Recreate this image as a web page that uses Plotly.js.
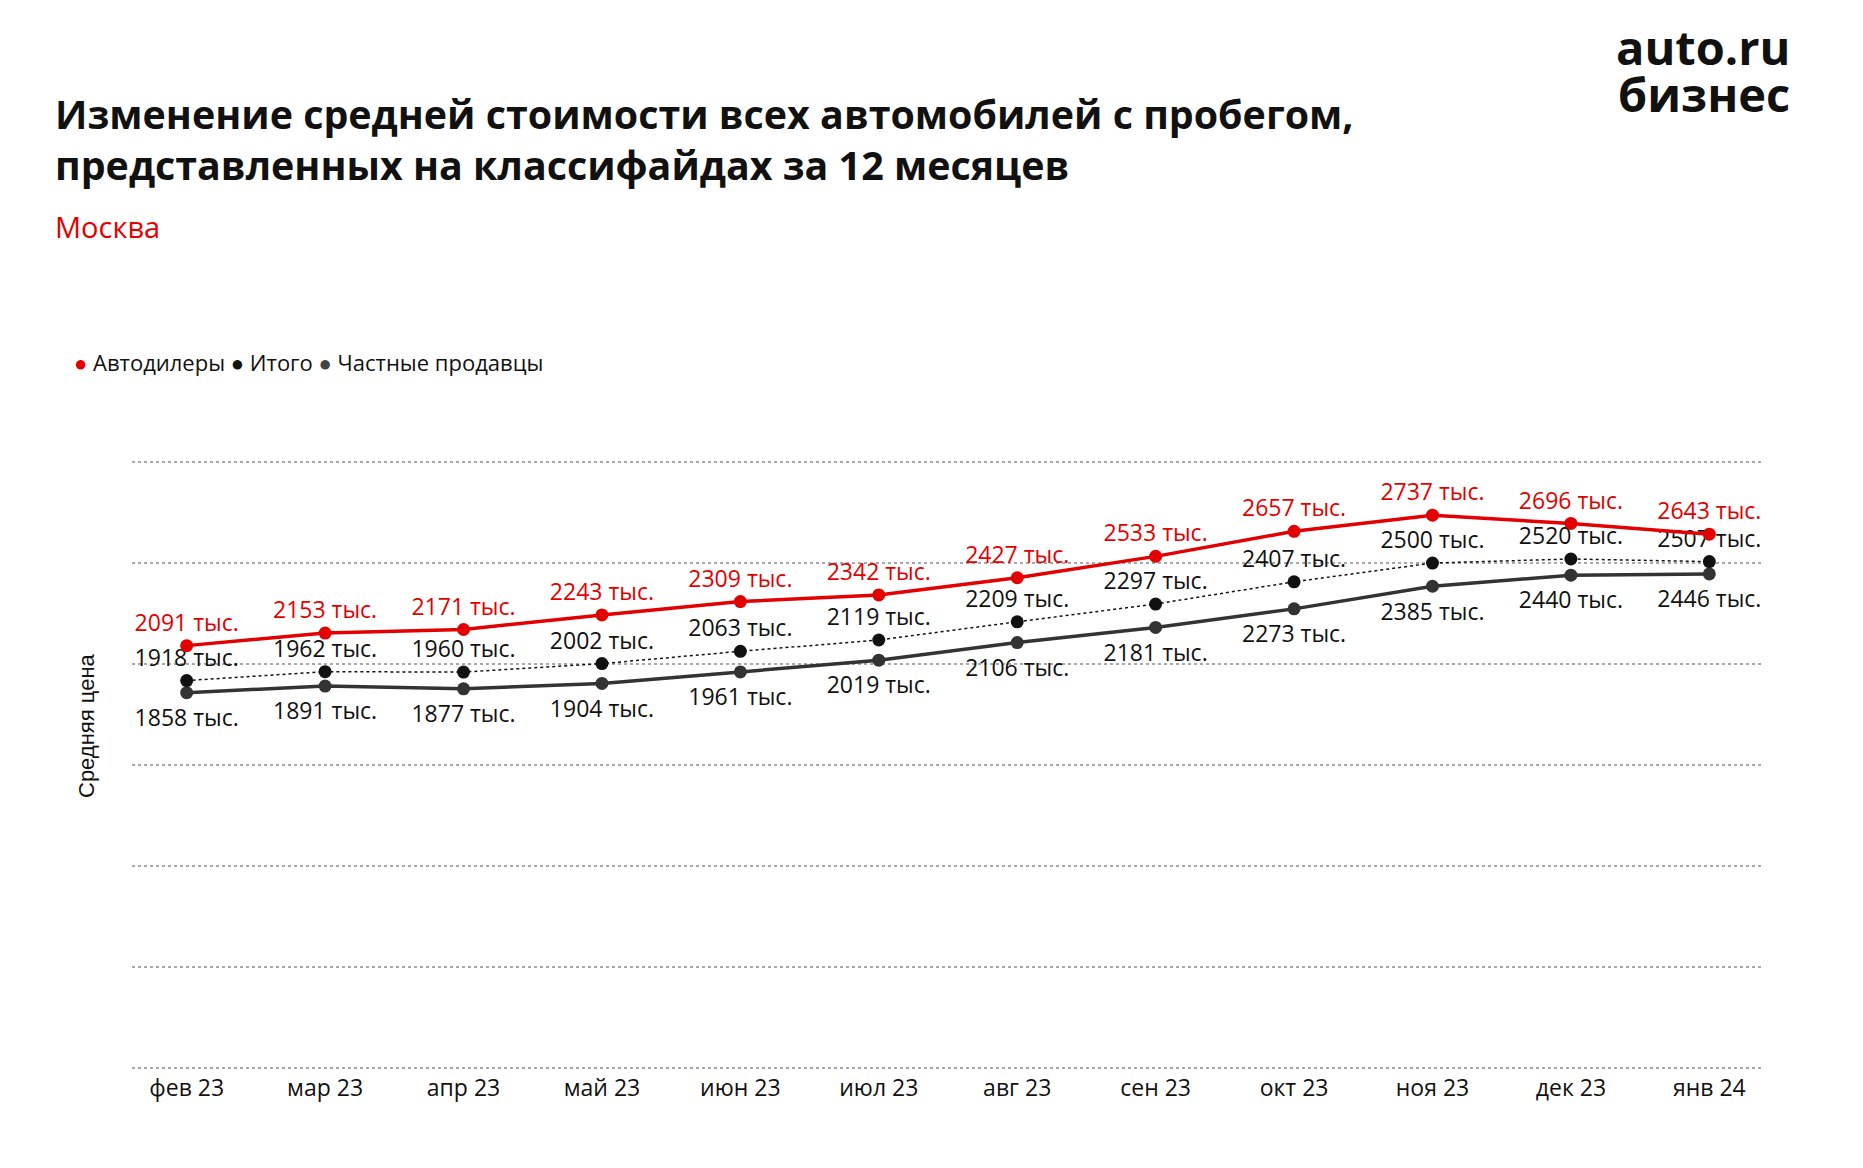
<!DOCTYPE html>
<html>
<head>
<meta charset="utf-8">
<script src="https://cdn.plot.ly/plotly-3.0.1.min.js"></script>
<style>html,body{margin:0;padding:0;background:#fff;}#chart{width:1863px;height:1168px;}</style>
</head>
<body>
<div id="chart"></div>
<script>
const months = ["фев 23","мар 23","апр 23","май 23","июн 23","июл 23","авг 23","сен 23","окт 23","ноя 23","дек 23","янв 24"];
const dealers = [2091,2153,2171,2243,2309,2342,2427,2533,2657,2737,2696,2643];
const total = [1918,1962,1960,2002,2063,2119,2209,2297,2407,2500,2520,2507];
const privateSellers = [1858,1891,1877,1904,1961,2019,2106,2181,2273,2385,2440,2446];
const yTicks = [0,500,1000,1500,2000,2500,3000];

const RED = "#e30000", BLACK = "#111111", GREY = "#333333";
const FONT = "Open Sans";
const lbl = v => v + " тыс.";
const LBL = 23;

const traces = [
  {x: months, y: privateSellers, name: "Частные продавцы", mode: "lines+markers",
   line: {color: GREY, width: 3.5}, marker: {color: GREY, size: 13}},
  {x: months, y: privateSellers, name: "Частные продавцы (подписи)", mode: "markers+text",
   marker: {color: GREY, size: 24, opacity: 0},
   text: privateSellers.map(lbl), textposition: "bottom center",
   textfont: {family: FONT, size: LBL, color: "#111"}, cliponaxis: false},
  {x: months, y: total, name: "Итого", mode: "lines+markers+text",
   line: {color: BLACK, width: 1.5, dash: "dot"}, marker: {color: BLACK, size: 13},
   text: total.map(lbl), textposition: "top center",
   textfont: {family: FONT, size: LBL, color: "#111"}, cliponaxis: false},
  {x: months, y: dealers, name: "Автодилеры", mode: "lines+markers+text",
   line: {color: RED, width: 3.5}, marker: {color: RED, size: 13},
   text: dealers.map(lbl), textposition: "top center",
   textfont: {family: FONT, size: LBL, color: RED}, cliponaxis: false}
];

// paper coords from pixels (plot area: x 132..1764, y 458..1072)
const PT = 458, PB = 96, H = 1168, PL = 132, PR = 99, W = 1863;
const py = p => ((H - PB) - p) / (H - PB - PT);
const px = p => (p - PL) / (W - PR - PL);

const layout = {
  width: W, height: H, autosize: false,
  paper_bgcolor: "#fff", plot_bgcolor: "#fff",
  margin: {l: PL, r: PR, t: PT, b: PB},
  showlegend: false,
  font: {family: FONT, color: "#111"},
  xaxis: {type: "category", range: [-0.395, 11.395], showgrid: false, zeroline: false,
          showline: false, ticks: "", ticklabelstandoff: 0,
          tickfont: {family: FONT, size: 23, color: "#111"}, fixedrange: true},
  yaxis: {range: [-20, 3020], tickvals: yTicks, showticklabels: false, showgrid: true,
          gridcolor: "#a8a8a8", griddash: "dot", gridwidth: 1.5, zeroline: false, showline: false, ticks: ""},
  annotations: [
    {xref: "paper", yref: "paper", x: px(86), y: py(726), xanchor: "center", yanchor: "middle",
     text: "Средняя цена", textangle: -90, showarrow: false,
     font: {family: "Liberation Sans", size: 22, color: "#111"}},
    {xref: "paper", yref: "paper", x: px(72), y: py(362), xanchor: "left", yanchor: "middle",
     showarrow: false, align: "left",
     text: '<span style="color:' + RED + '">●</span> Автодилеры <span style="color:#111">●</span> Итого <span style="color:#444">●</span> Частные продавцы',
     font: {family: FONT, size: 22, color: "#111"}},
    {xref: "paper", yref: "paper", x: px(53), y: py(139), xanchor: "left", yanchor: "middle",
     showarrow: false, align: "left",
     text: "<b>Изменение средней стоимости всех автомобилей с пробегом,<br>представленных на классифайдах за 12 месяцев</b>",
     font: {family: FONT, size: 39.4, color: "#111"}},
    {xref: "paper", yref: "paper", x: px(53), y: py(226), xanchor: "left", yanchor: "middle",
     showarrow: false, align: "left", text: "Москва",
     font: {family: FONT, size: 29, color: RED}},
    {xref: "paper", yref: "paper", x: px(1792), y: py(47), xanchor: "right", yanchor: "middle",
     showarrow: false, text: "<b>auto.ru</b>",
     font: {family: FONT, size: 47, color: "#111"}},
    {xref: "paper", yref: "paper", x: px(1792), y: py(94), xanchor: "right", yanchor: "middle",
     showarrow: false, text: "<b>бизнес</b>",
     font: {family: FONT, size: 47, color: "#111"}}
  ]
};

Plotly.newPlot("chart", traces, layout, {displayModeBar: false, staticPlot: true});
</script>
</body>
</html>
